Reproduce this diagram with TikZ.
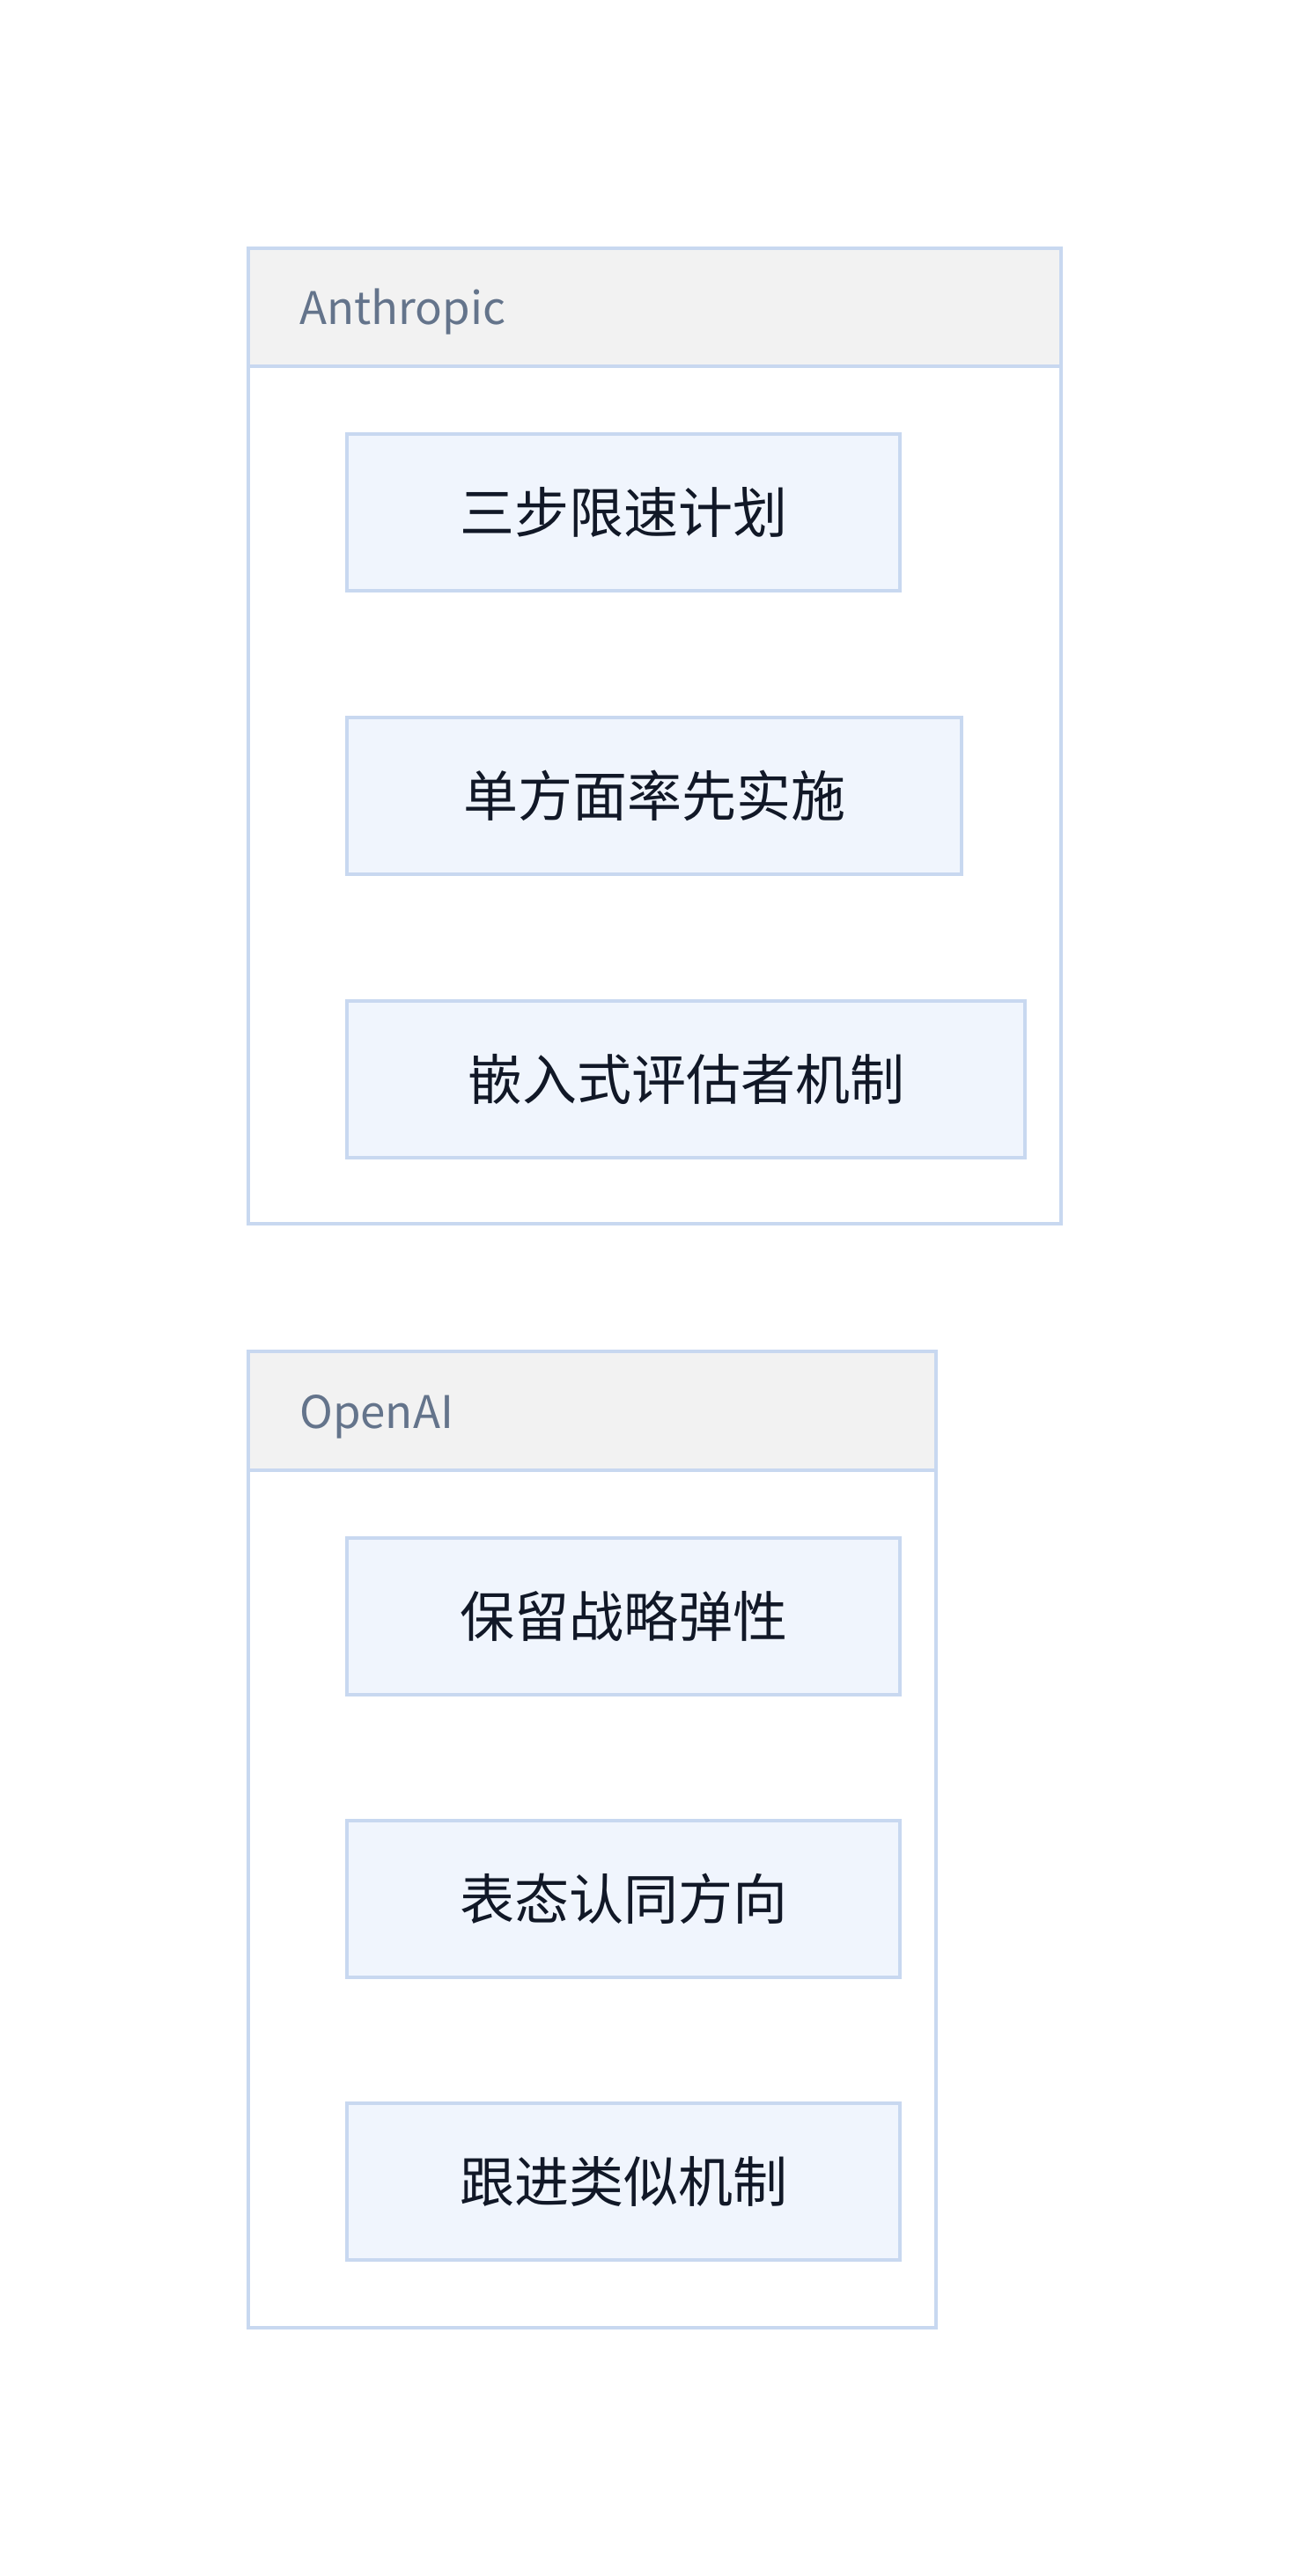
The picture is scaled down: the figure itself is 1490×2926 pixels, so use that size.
\documentclass[tikz,border=0pt]{standalone}
\usepackage{fontspec}
\newfontfamily\cjk{Noto Sans CJK SC}
\definecolor{bordercol}{HTML}{C8D8F0}
\definecolor{headfill}{HTML}{F2F2F2}
\definecolor{itemfill}{HTML}{F0F5FD}
\definecolor{labelcol}{HTML}{64748B}
\definecolor{textcol}{HTML}{111827}
\begin{document}
\begin{tikzpicture}[x=1pt,y=-1pt,
  group/.style={draw=bordercol, line width=3.5pt, fill=white, rectangle, inner sep=0pt, outer sep=0pt, anchor=north west},
  header/.style={draw=bordercol, line width=3.5pt, fill=headfill, rectangle, inner sep=0pt, outer sep=0pt, anchor=north west},
  headlabel/.style={inner sep=0pt, anchor=base west, text=labelcol, font=\cjk\fontsize{51}{61}\selectfont},
  item/.style={draw=bordercol, line width=3.5pt, fill=itemfill, rectangle, inner sep=0pt, outer sep=0pt, anchor=north west, minimum height=178pt, text=textcol, font=\cjk\fontsize{62}{74}\selectfont}]
\useasboundingbox (0,0) rectangle (1490,2926);
\fill[white] (0,0) rectangle (1490,2926);
% Anthropic group
\node[group, minimum width=923pt, minimum height=1108pt] (anthropic) at (282,282) {};
\node[header, minimum width=923pt, minimum height=134pt] (anthHead) at (282,282) {};
\node[headlabel] (anthLabel) at (340,368) {Anthropic};
\node[item, minimum width=628pt] (a1) at (394,493) {三步限速计划};
\node[item, minimum width=698pt] (a2) at (394,815) {单方面率先实施};
\node[item, minimum width=770pt] (a3) at (394,1137) {嵌入式评估者机制};
% OpenAI group
\node[group, minimum width=781pt, minimum height=1109pt] (openai) at (282,1535) {};
\node[header, minimum width=781pt, minimum height=135pt] (openHead) at (282,1535) {};
\node[headlabel] (openLabel) at (340,1622) {OpenAI};
\node[item, minimum width=628pt] (o1) at (394,1747) {保留战略弹性};
\node[item, minimum width=628pt] (o2) at (394,2068) {表态认同方向};
\node[item, minimum width=628pt] (o3) at (394,2389) {跟进类似机制};
\end{tikzpicture}
\end{document}
